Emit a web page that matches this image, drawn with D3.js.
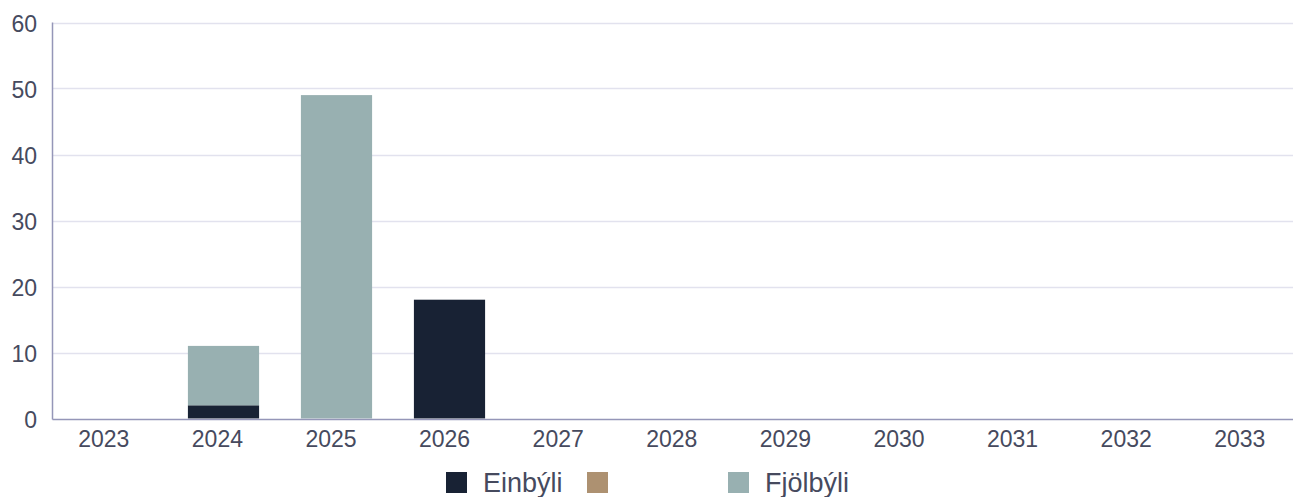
<!DOCTYPE html>
<html>
<head>
<meta charset="utf-8">
<script src="https://cdn.jsdelivr.net/npm/d3@7"></script>
<style>
  body { margin: 0; background: #fff; }
  text { font-family: "Liberation Sans", Arial, sans-serif; fill: #464a5e; }
</style>
</head>
<body>
<svg id="chart" width="1293" height="497"></svg>
<script>
// data
const years = ["2023", "2024", "2025", "2026", "2027", "2028", "2029", "2030", "2031", "2032", "2033"];
const seriesNames = ["Einbýli", "", "Fjölbýli"];
const einbyli = [0, 2, 0, 18, 0, 0, 0, 0, 0, 0, 0];
const middle = [0, 0, 0, 0, 0, 0, 0, 0, 0, 0, 0];
const fjolbyli = [0, 9, 49, 0, 0, 0, 0, 0, 0, 0, 0];
const yTicks = [0, 10, 20, 30, 40, 50, 60];
const colors = ["#182234", "#ad9171", "#98b0b1"];

const svg = d3.select("#chart");
const margin = { top: 22, right: 0, bottom: 79, left: 52.5 };
const width = 1293;
const height = 497;

const rows = years.map((y, i) => ({ year: y, s0: einbyli[i], s1: middle[i], s2: fjolbyli[i] }));
const stacked = d3.stack().keys(["s0", "s1", "s2"])(rows);

const x = d3.scaleBand()
  .domain(years)
  .range([54, 54 + 113 * years.length])
  .paddingInner(0.37)
  .paddingOuter(0.185);

// tick labels sit on a slightly different grid than the bars
const xLabel = d3.scaleBand()
  .domain(years)
  .range([47, 47 + 113.6 * years.length]);

const y = d3.scaleLinear()
  .domain([0, 60])
  .range([height - margin.bottom + 0.5, margin.top + 0.5]);

// grid lines
svg.append("g")
  .selectAll("line")
  .data(yTicks.filter(d => d > 0))
  .join("line")
  .attr("x1", margin.left)
  .attr("x2", width)
  .attr("y1", d => Math.round(y(d)) + 0.5)
  .attr("y2", d => Math.round(y(d)) + 0.5)
  .attr("stroke", "#e2e2ee")
  .attr("stroke-width", 1.5);

// bars
svg.append("g")
  .selectAll("g")
  .data(stacked)
  .join("g")
  .attr("fill", (d, i) => colors[i])
  .selectAll("rect")
  .data(d => d.filter(p => p[1] > p[0]))
  .join("rect")
  .attr("x", d => x(d.data.year))
  .attr("width", x.bandwidth())
  .attr("y", d => y(d[1]))
  .attr("height", d => y(d[0]) - y(d[1]));

// axes lines
const y0 = Math.round(y(0)) + 0.5;
svg.append("line")
  .attr("x1", margin.left).attr("x2", width)
  .attr("y1", y0).attr("y2", y0)
  .attr("stroke", "#9596b8").attr("stroke-width", 1.5);
svg.append("line")
  .attr("x1", margin.left).attr("x2", margin.left)
  .attr("y1", y(60)).attr("y2", y0)
  .attr("stroke", "#9596b8").attr("stroke-width", 1.5);

// y labels
svg.append("g")
  .selectAll("text")
  .data(yTicks)
  .join("text")
  .attr("x", 37)
  .attr("y", d => y(d) + 1)
  .attr("dy", "0.35em")
  .attr("text-anchor", "end")
  .attr("font-size", 23)
  .text(d => d);

// x labels
svg.append("g")
  .selectAll("text")
  .data(years)
  .join("text")
  .attr("x", d => xLabel(d) + xLabel.bandwidth() / 2)
  .attr("y", 447)
  .attr("text-anchor", "middle")
  .attr("font-size", 23)
  .text(d => d);

// legend
const legend = svg.append("g")
  .selectAll("g")
  .data(seriesNames)
  .join("g")
  .attr("transform", (d, i) => `translate(${446 + i * 141}, 472)`);

legend.append("rect")
  .attr("width", 21)
  .attr("height", 21)
  .attr("fill", (d, i) => colors[i]);

legend.append("text")
  .attr("x", 37)
  .attr("y", 20)
  .attr("font-size", 27)
  .text(d => d);
</script>
</body>
</html>
